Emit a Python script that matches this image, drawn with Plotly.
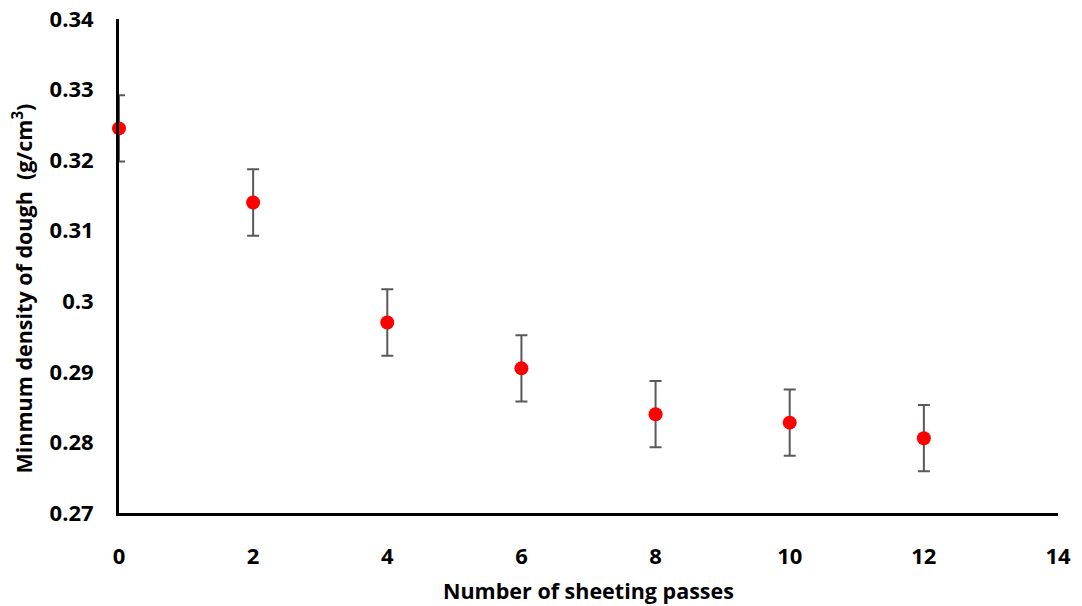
import plotly.graph_objects as go

# Minimum dough density after successive sheeting passes
passes = [0, 2, 4, 6, 8, 10, 12]
density = [0.3245, 0.3140, 0.2970, 0.2905, 0.2840, 0.2828, 0.2806]
density_err = [0.0047, 0.0047, 0.0047, 0.0047, 0.0047, 0.0047, 0.0047]

y_ticks = [0.27, 0.28, 0.29, 0.30, 0.31, 0.32, 0.33, 0.34]
y_tick_text = ["0.27", "0.28", "0.29", "0.3", "0.31", "0.32", "0.33", "0.34"]
x_ticks = [0, 2, 4, 6, 8, 10, 12, 14]

FONT = "Open Sans"

fig = go.Figure()
fig.add_trace(go.Scatter(
    x=passes,
    y=density,
    mode="markers",
    marker=dict(color="#ff0000", size=14),
    error_y=dict(type="data", array=density_err, visible=True,
                 color="#595959", thickness=2, width=6),
    cliponaxis=False,
    showlegend=False,
))

fig.update_layout(
    width=1082, height=606,
    margin=dict(l=119, r=24, t=19, b=93),
    paper_bgcolor="white", plot_bgcolor="white",
    font=dict(family=FONT, color="black"),
    xaxis=dict(
        range=[0, 14], tickvals=x_ticks,
        showline=True, linecolor="black", linewidth=3,
        showgrid=False, zeroline=False, ticks="",
        automargin=False,
        ticklabelstandoff=22,
        tickfont=dict(family=FONT, size=22, color="black", weight="bold"),
    ),
    yaxis=dict(
        range=[0.27, 0.34], tickvals=y_ticks, ticktext=y_tick_text,
        showline=True, linecolor="black", linewidth=3,
        showgrid=False, zeroline=False, ticks="",
        automargin=False,
        ticklabelstandoff=18,
        tickfont=dict(family=FONT, size=22, color="black", weight="bold"),
    ),
    annotations=[
        dict(
            text="Minmum density of dough  (g/cm<sup>3</sup>)",
            xref="paper", yref="paper", x=-0.103, y=0.455,
            xanchor="center", yanchor="middle", textangle=-90, showarrow=False,
            font=dict(family=FONT, size=21.5, color="black", weight="bold"),
        ),
        dict(
            text="Number of sheeting passes",
            xref="paper", yref="paper", x=0.5, y=-0.156,
            xanchor="center", yanchor="middle", showarrow=False,
            font=dict(family=FONT, size=21.5, color="black", weight="bold"),
        ),
    ],
)

fig.write_html("out.html")
